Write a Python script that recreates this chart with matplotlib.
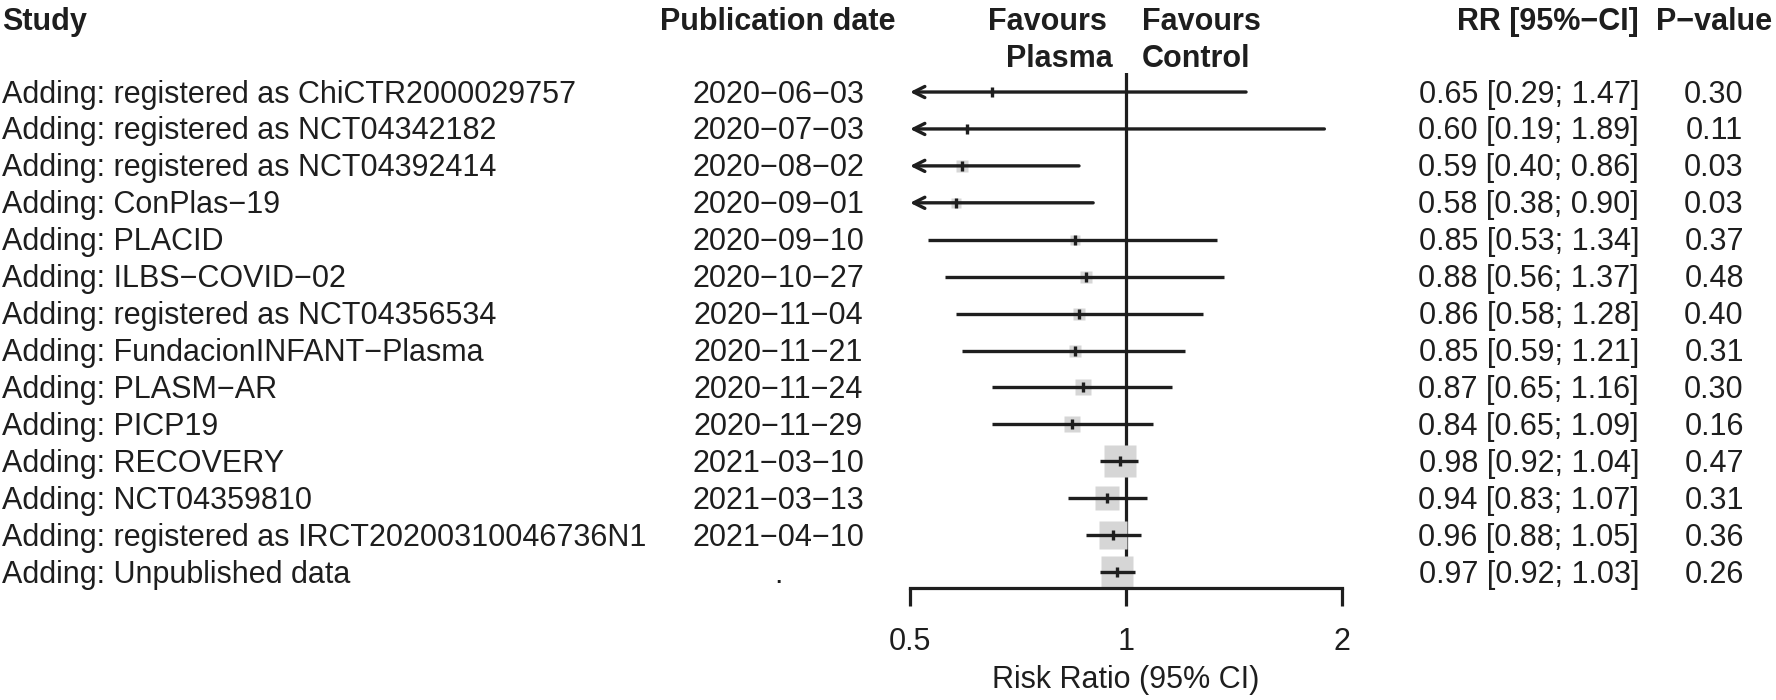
import matplotlib.pyplot as plt
import matplotlib.transforms as mtransforms
import numpy as np
from matplotlib.ticker import FixedLocator, FixedFormatter, NullLocator

plt.rcParams['font.family'] = ['Liberation Sans', 'DejaVu Sans']

studies = ['Adding: registered as ChiCTR2000029757',
           'Adding: registered as NCT04342182',
           'Adding: registered as NCT04392414',
           'Adding: ConPlas\u221219',
           'Adding: PLACID',
           'Adding: ILBS\u2212COVID\u221202',
           'Adding: registered as NCT04356534',
           'Adding: FundacionINFANT\u2212Plasma',
           'Adding: PLASM\u2212AR',
           'Adding: PICP19',
           'Adding: RECOVERY',
           'Adding: NCT04359810',
           'Adding: registered as IRCT20200310046736N1',
           'Adding: Unpublished data']
dates = ['2020\u221206\u221203', '2020\u221207\u221203', '2020\u221208\u221202',
         '2020\u221209\u221201', '2020\u221209\u221210', '2020\u221210\u221227',
         '2020\u221211\u221204', '2020\u221211\u221221', '2020\u221211\u221224',
         '2020\u221211\u221229', '2021\u221203\u221210', '2021\u221203\u221213',
         '2021\u221204\u221210', '.']
rr = [0.65, 0.60, 0.59, 0.58, 0.85, 0.88, 0.86, 0.85, 0.87, 0.84, 0.98, 0.94, 0.96, 0.97]
lower = [0.29, 0.19, 0.40, 0.38, 0.53, 0.56, 0.58, 0.59, 0.65, 0.65, 0.92, 0.83, 0.88, 0.92]
upper = [1.47, 1.89, 0.86, 0.90, 1.34, 1.37, 1.28, 1.21, 1.16, 1.09, 1.04, 1.07, 1.05, 1.03]
pval = [0.30, 0.11, 0.03, 0.03, 0.37, 0.48, 0.40, 0.31, 0.30, 0.16, 0.47, 0.31, 0.36, 0.26]
# relative weight (box area)
weight = [1.5, 1.5, 13, 10, 10, 12, 13, 16, 22, 24, 100, 61, 80, 98]

W, H = 1776, 700
ink = '#1e1e1e'
fs = 22

fig = plt.figure(figsize=(W / 100, H / 100), dpi=100)
ax = fig.add_axes([910 / W, (H - 588) / H, 432 / W, 515 / H])

n = len(studies)
y = np.arange(n, 0, -1)

ax.set_xscale('log')
ax.set_xlim(0.5, 2)
ax.set_ylim(0.57, n + 0.515)

ax.axvline(1, color=ink, lw=2.3, zorder=1)

side = 32 * 0.72 * np.sqrt(np.array(weight) / 100)
for yi, r, s in zip(y, rr, side):
    ax.plot([r], [yi], marker='s', markersize=s, color='#d6d6d6', mec='none', zorder=2, clip_on=False)

for yi, r, lo, hi in zip(y, rr, lower, upper):
    if lo < 0.5:
        ax.annotate('', xy=(0.5, yi), xytext=(hi, yi),
                    arrowprops=dict(arrowstyle='->', lw=2.4, color=ink, shrinkA=0, shrinkB=0,
                                    mutation_scale=20), zorder=3)
    else:
        ax.plot([lo, hi], [yi, yi], color=ink, lw=2.4, zorder=3, solid_capstyle='butt', clip_on=False)
    ax.plot([r], [yi], marker='|', markersize=7.5, mew=2.4, color=ink, zorder=4)

for sp in ['top', 'right', 'left']:
    ax.spines[sp].set_visible(False)
ax.spines['bottom'].set_linewidth(2.3)
ax.spines['bottom'].set_color(ink)
ax.spines['bottom'].set_bounds(0.5, 2)
ax.set_yticks([])
ax.xaxis.set_major_locator(FixedLocator([0.5, 1, 2]))
ax.xaxis.set_major_formatter(FixedFormatter(['0.5', '1', '2']))
ax.xaxis.set_minor_locator(NullLocator())
ax.tick_params(axis='x', length=13, width=2.3, color=ink, pad=15, labelsize=fs, labelcolor=ink)
ax.set_xlabel('Risk Ratio (95% CI)', fontsize=fs, color=ink, labelpad=6)
ax.patch.set_alpha(0)

# text columns
tr = mtransforms.blended_transform_factory(fig.transFigure, ax.transData)
off = 10.5 / 36.9
for yi, s, d, r, lo, hi, p in zip(y, studies, dates, rr, lower, upper, pval):
    ax.text(2 / W, yi - off, s, transform=tr, ha='left', va='baseline', fontsize=fs, color=ink)
    ax.text(778 / W, yi - off, d, transform=tr, ha='center', va='baseline', fontsize=fs, color=ink)
    ax.text(1639 / W, yi - off, f'{r:.2f} [{lo:.2f}; {hi:.2f}]', transform=tr,
            ha='right', va='baseline', fontsize=fs, color=ink)
    ax.text(1714 / W, yi - off, f'{p:.2f}', transform=tr, ha='center', va='baseline', fontsize=fs, color=ink)

hy1 = 1 - 30 / H
hy2 = 1 - 67 / H
hd = dict(fontsize=fs, fontweight='bold', color=ink, va='baseline')
fig.text(2 / W, hy1, 'Study', ha='left', **hd)
fig.text(778 / W, hy1, 'Publication date', ha='center', **hd)
fig.text(988 / W, hy1, 'Favours', ha='left', **hd)
fig.text(1006 / W, hy2, 'Plasma', ha='left', **hd)
fig.text(1142 / W, hy1, 'Favours', ha='left', **hd)
fig.text(1142 / W, hy2, 'Control', ha='left', **hd)
fig.text(1639 / W, hy1, 'RR [95%\u2212CI]', ha='right', **hd)
fig.text(1714 / W, hy1, 'P\u2212value', ha='center', **hd)

fig.savefig('out.png', dpi=100, facecolor='white')
